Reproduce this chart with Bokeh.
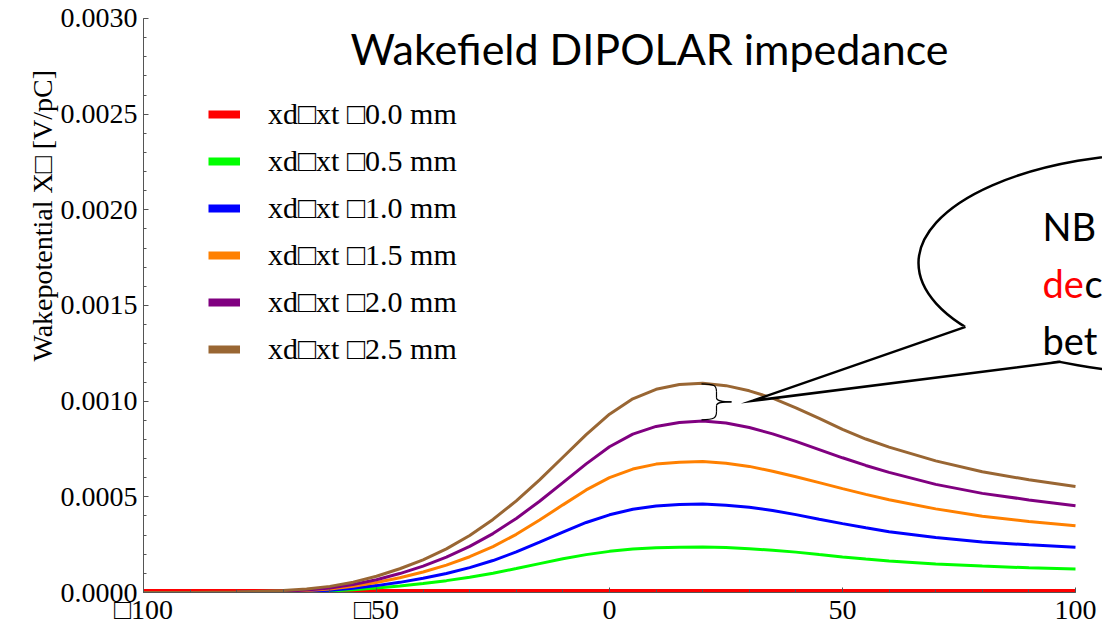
import math
from bokeh.plotting import figure
from bokeh.models import (Range1d, Label, Legend, LegendItem, SingleIntervalTicker,
                          NumeralTickFormatter, LinearAxis, Title)
from bokeh.embed import file_html
from bokeh.resources import INLINE

# ---------------- data ----------------
x_pos = [-100, -90, -80, -70, -65, -60, -55, -50, -45, -40, -35, -30, -25, -20, -15, -10, -5,
         0, 5, 10, 15, 20, 25, 30, 35, 40, 45, 50, 55, 60, 70, 80, 90, 100]

wake_0_0 = [0.0] * 34
wake_0_5 = [0, 0, 0, 0.000002, 0.000004, 0.000008, 0.000014, 0.000023, 0.000034, 0.000047,
            0.000062, 0.000080, 0.000101, 0.000125, 0.000151, 0.000176, 0.000198,
            0.000215, 0.000227, 0.000234, 0.000237, 0.000238, 0.000235, 0.000229, 0.000221,
            0.000211, 0.000198, 0.000186, 0.000175, 0.000165, 0.000149, 0.000138, 0.000129, 0.000123]
wake_1_0 = [0, 0, 0, 0.000003, 0.000006, 0.000012, 0.000022, 0.000036, 0.000053, 0.000074,
            0.000099, 0.000130, 0.000167, 0.000212, 0.000263, 0.000316, 0.000366,
            0.000406, 0.000435, 0.000452, 0.000460, 0.000462, 0.000456, 0.000445, 0.000429,
            0.000407, 0.000383, 0.000360, 0.000338, 0.000318, 0.000287, 0.000264, 0.000249, 0.000236]
wake_1_5 = [0, 0, 0.000001, 0.000005, 0.000010, 0.000018, 0.000032, 0.000052, 0.000077, 0.000107,
            0.000143, 0.000187, 0.000240, 0.000304, 0.000379, 0.000458, 0.000536,
            0.000600, 0.000645, 0.000671, 0.000681, 0.000684, 0.000676, 0.000659, 0.000634,
            0.000605, 0.000574, 0.000543, 0.000513, 0.000485, 0.000437, 0.000399, 0.000371, 0.000349]
wake_2_0 = [0, 0, 0.000001, 0.000007, 0.000013, 0.000024, 0.000042, 0.000067, 0.000099, 0.000138,
            0.000185, 0.000241, 0.000308, 0.000387, 0.000477, 0.000574, 0.000672,
            0.000762, 0.000828, 0.000868, 0.000888, 0.000896, 0.000886, 0.000862, 0.000829,
            0.000790, 0.000747, 0.000704, 0.000664, 0.000628, 0.000565, 0.000518, 0.000484, 0.000453]
wake_2_5 = [0, 0, 0.000002, 0.000010, 0.000018, 0.000032, 0.000054, 0.000085, 0.000124, 0.000171,
            0.000228, 0.000298, 0.000382, 0.000479, 0.000589, 0.000707, 0.000825,
            0.000932, 0.001012, 0.001062, 0.001087, 0.001093, 0.001081, 0.001054, 0.001016,
            0.000965, 0.000910, 0.000853, 0.000802, 0.000760, 0.000688, 0.000631, 0.000589, 0.000554]

series_values = [wake_0_0, wake_0_5, wake_1_0, wake_1_5, wake_2_0, wake_2_5]
series_labels = ["xd\u25a1xt \u25a10.0 mm", "xd\u25a1xt \u25a10.5 mm", "xd\u25a1xt \u25a11.0 mm",
                 "xd\u25a1xt \u25a11.5 mm", "xd\u25a1xt \u25a12.0 mm", "xd\u25a1xt \u25a12.5 mm"]
series_colors = ["#FF0000", "#00FF00", "#0000FF", "#FF8000", "#800080", "#996633"]

x_tick_overrides = {-100: "\u25a1100", -50: "\u25a150"}
title_text = "Wakefield DIPOLAR impedance"
y_label_text = "Wakepotential  X\u25a1 [V/pC]"

# ---------------- layout ----------------
W, H = 1102, 627
AX_L, AX_R = 143, 1075
AX_B, AX_T = 593, 18
ppx = (AX_R - AX_L) / 200.0
ppy = (AX_B - AX_T) / 0.003


def dx(px):
    return -100 + (px - AX_L) / ppx


def dy(py):
    return (AX_B - py) / ppy


p = figure(width=W, height=H, output_backend="svg", toolbar_location=None,
           x_range=Range1d(-100, dx(W)), y_range=Range1d(0, dy(0)),
           min_border_left=AX_L, min_border_right=0, min_border_top=0,
           min_border_bottom=H - AX_B, x_axis_type=None, y_axis_type=None)
p.outline_line_color = None
p.background_fill_color = "white"
p.border_fill_color = "white"

AX_COLOR = "#555555"
TICK_FONT = "Liberation Serif"

xaxis = LinearAxis(ticker=SingleIntervalTicker(interval=50, num_minor_ticks=5), bounds=(-100, 100))
xaxis.major_label_overrides = x_tick_overrides
yaxis = LinearAxis(ticker=SingleIntervalTicker(interval=0.0005, num_minor_ticks=5), bounds=(0, 0.003),
                   formatter=NumeralTickFormatter(format="0.0000"))
for ax in (xaxis, yaxis):
    ax.axis_line_color = AX_COLOR
    ax.axis_line_width = 1
    ax.major_tick_line_color = AX_COLOR
    ax.minor_tick_line_color = AX_COLOR
    ax.major_tick_in = 5
    ax.major_tick_out = 0
    ax.minor_tick_in = 3
    ax.minor_tick_out = 0
    ax.major_label_text_font = TICK_FONT
    ax.major_label_text_font_size = "28px"
    ax.major_label_text_color = "black"
xaxis.major_label_standoff = 1
yaxis.major_label_standoff = 6
p.add_layout(xaxis, "below")
p.add_layout(yaxis, "left")

# y-axis caption (placed as a side title so it can sit off-centre like the reference)
ytitle = Title(text=y_label_text, align="left", offset=231, text_font=TICK_FONT,
               text_font_size="28px", text_font_style="normal", text_color="black",
               standoff=0)
p.add_layout(ytitle, "left")

# curves
for vals, col in zip(series_values, series_colors):
    p.line(x_pos, vals, line_color=col, line_width=7 if col == "#FF0000" else 3)

# legend (thick swatches; swatch renderers sit outside the visible range)
items = []
for lab, col in zip(series_labels, series_colors):
    r = p.line([-400, -390], [0, 0], line_color=col, line_width=8)
    items.append(LegendItem(label=lab, renderers=[r]))
legend = Legend(items=items, location=(65, 226), padding=0, margin=0, spacing=13,
                glyph_width=32, glyph_height=34, label_height=34, label_standoff=28,
                label_text_font=TICK_FONT, label_text_font_size="30px",
                label_text_color="black",
                background_fill_alpha=0, border_line_alpha=0)
p.add_layout(legend)

# title
p.add_layout(Label(x=dx(649), y=dy(48), text=title_text, text_align="center",
                   text_baseline="middle", text_font="Lato", text_font_size="43px",
                   text_color="black"))

# brace near the peak
bx0, bx1, btip = 701, 716, 731
by_top, by_mid, by_bot = 384, 402, 420
p.bezier(x0=[dx(bx0), dx(bx1), dx(bx1), dx(bx0)],
         y0=[dy(by_top), dy(by_mid - 4), dy(by_mid + 4), dy(by_bot)],
         x1=[dx(bx1), dx(btip), dx(btip), dx(bx1)],
         y1=[dy(by_top + 8), dy(by_mid), dy(by_mid), dy(by_bot - 8)],
         cx0=[dx(bx1 - 2), dx(bx1), dx(bx1), dx(bx1 - 2)],
         cy0=[dy(by_top), dy(by_mid - 1), dy(by_mid + 1), dy(by_bot)],
         cx1=[dx(bx1), dx(bx1 + 4), dx(bx1 + 4), dx(bx1)],
         cy1=[dy(by_top + 2), dy(by_mid), dy(by_mid), dy(by_bot - 2)],
         line_color="black", line_width=1.2)
p.segment(x0=[dx(bx1), dx(bx1)], y0=[dy(by_top + 8), dy(by_mid + 4)],
          x1=[dx(bx1), dx(bx1)], y1=[dy(by_mid - 4), dy(by_bot - 8)],
          line_color="black", line_width=1.2)

# callout bubble
ecx, ecy, ea, eb = 1170, 263, 252, 110


def on_ellipse_low(px):
    t = (px - ecx) / ea
    return ecy + eb * math.sqrt(max(0.0, 1 - t * t))


ax1, ax2, tipx, tipy = 965, 1060, 752, 401
ay1, ay2 = on_ellipse_low(ax1), on_ellipse_low(ax2)
p.ellipse(x=[dx(ecx)], y=[dy(ecy)], width=[2 * ea], height=[2 * eb],
          width_units="screen", height_units="screen",
          fill_color="white", line_color="black", line_width=2.5)
p.patch([dx(ax1), dx(tipx), dx(ax2)], [dy(ay1 - 1.5), dy(tipy), dy(ay2 - 1.5)],
        fill_color="white", line_color=None)
p.line([dx(ax1), dx(tipx), dx(ax2)], [dy(ay1), dy(tipy), dy(ay2)],
       line_color="black", line_width=2.5, line_join="miter")

BF = "Lato"
BFS = "38px"
TX = 1042
p.add_layout(Label(x=dx(TX), y=dy(226), text="NB", text_font=BF, text_font_size=BFS,
                   text_baseline="alphabetic", text_color="black"))
p.add_layout(Label(x=dx(TX), y=dy(283), text="de", text_font=BF, text_font_size=BFS,
                   text_baseline="alphabetic", text_color="#FF0000"))
p.add_layout(Label(x=dx(TX + 42), y=dy(283), text="c", text_font=BF, text_font_size=BFS,
                   text_baseline="alphabetic", text_color="black"))
p.add_layout(Label(x=dx(TX), y=dy(340), text="bet", text_font=BF, text_font_size=BFS,
                   text_baseline="alphabetic", text_color="black"))

open("out.html", "w").write(file_html(p, INLINE))
